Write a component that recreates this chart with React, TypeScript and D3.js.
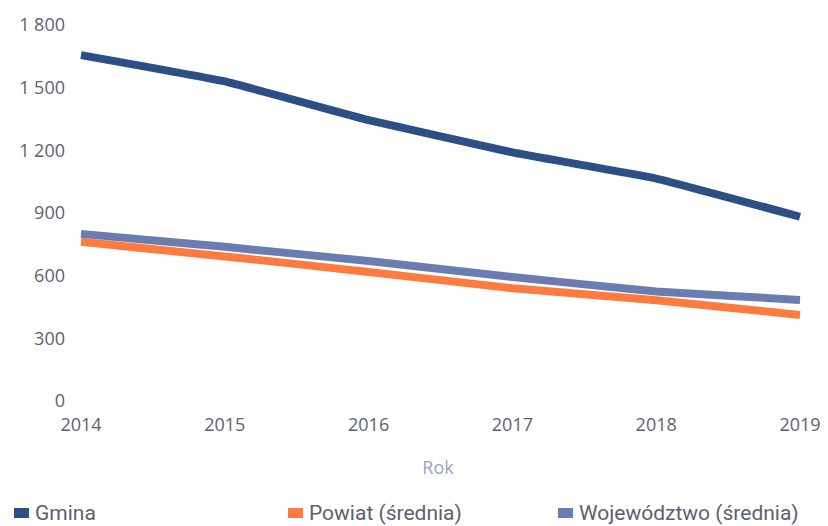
import React from "react";
import * as d3 from "d3";

const years = [2014, 2015, 2016, 2017, 2018, 2019];
const gmina = [1656, 1530, 1345, 1190, 1065, 882];
const powiat = [762, 692, 618, 540, 482, 412];
const wojewodztwo = [800, 738, 670, 594, 524, 484];
const yTicks = [0, 300, 600, 900, 1200, 1500, 1800];
const seriesNames = ["Gmina", "Powiat (średnia)", "Województwo (średnia)"];
const seriesColors = ["#2c4f85", "#fd7b3f", "#6b7db0"];

const W = 828, H = 526;

export default function App() {
  const x = d3.scaleLinear().domain([2014, 2019]).range([81, 800]);
  const y = d3.scaleLinear().domain([0, 1800]).range([401, 25]);
  const line = d3
    .line<number>()
    .x((_, i) => x(years[i]))
    .y((d) => y(d))
    .curve(d3.curveCardinal.tension(0.7));
  const data = [gmina, powiat, wojewodztwo];
  const order = [1, 2, 0];
  const legendX = [14, 288, 558];
  const font = "'Open Sans', sans-serif";
  return (
    <svg
      width={W}
      height={H}
      style={{ position: "absolute", left: 0, top: 0, background: "#fff" }}
    >
      {yTicks.map((t) => (
        <text
          key={t}
          x={65}
          y={y(t)}
          dy="0.35em"
          textAnchor="end"
          fontFamily={font}
          fontSize={18}
          fill="#5d5f6e"
        >
          {d3.format(",")(t).replace(/,/g, " ")}
        </text>
      ))}
      {years.map((yr) => (
        <text
          key={yr}
          x={x(yr)}
          y={425}
          dy="0.35em"
          textAnchor="middle"
          fontFamily={font}
          fontSize={18}
          fill="#5d5f6e"
        >
          {yr}
        </text>
      ))}
      <text
        x={438}
        y={468}
        dy="0.35em"
        textAnchor="middle"
        fontFamily={font}
        fontSize={18}
        fill="#95a3cc"
      >
        Rok
      </text>
      {order.map((i) => (
        <path
          key={i}
          d={line(data[i]) || ""}
          fill="none"
          stroke={seriesColors[i]}
          strokeWidth={8}
          strokeLinecap="butt"
        />
      ))}
      {seriesNames.map((n, i) => (
        <g key={n} transform={`translate(${legendX[i]},513)`}>
          <rect x={0} y={-5} width={15} height={10} fill={seriesColors[i]} />
          <text
            x={21}
            y={0}
            dy="0.35em"
            fontFamily="Roboto, sans-serif"
            fontSize={21}
            fill="#5d5f6e"
          >
            {n}
          </text>
        </g>
      ))}
    </svg>
  );
}
